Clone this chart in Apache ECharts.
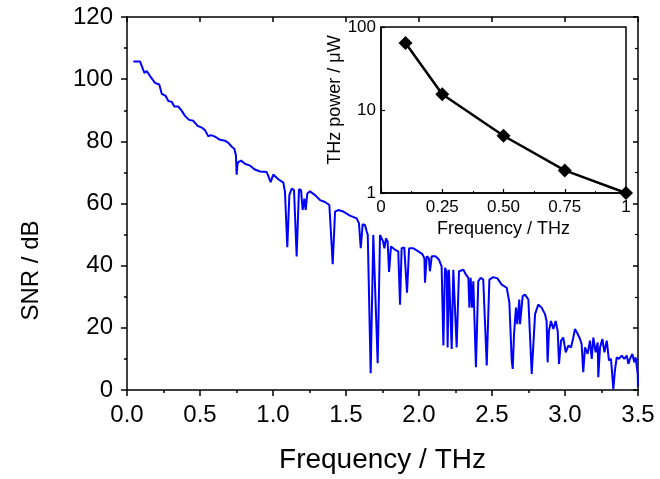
<!DOCTYPE html>
<html>
<head>
<meta charset="utf-8">
<script src="https://cdn.jsdelivr.net/npm/echarts@6/dist/echarts.min.js"></script>
<style>html,body{margin:0;padding:0;background:#fff}#c{width:660px;height:479px}</style>
</head>
<body>
<div id="c"></div>
<script>
// Main spectrum: frequency (THz) and SNR (dB)
const freq = [0.043,0.089,0.119,0.135,0.158,0.192,0.221,0.238,0.265,0.283,0.306,0.324,0.352,0.375,0.397,0.425,0.454,0.484,0.516,0.534,0.557,0.575,0.603,0.637,0.671,0.694,0.721,0.735,0.746,0.751,0.756,0.762,0.781,0.808,0.842,0.872,0.911,0.957,0.968,0.984,1.002,1.036,1.071,1.082,1.098,1.112,1.128,1.144,1.162,1.178,1.192,1.203,1.215,1.224,1.235,1.253,1.288,1.322,1.356,1.386,1.409,1.425,1.447,1.482,1.527,1.573,1.589,1.601,1.614,1.630,1.642,1.649,1.669,1.687,1.699,1.717,1.733,1.744,1.754,1.763,1.774,1.785,1.795,1.808,1.836,1.858,1.870,1.881,1.899,1.918,1.932,1.961,1.995,2.023,2.037,2.041,2.053,2.068,2.075,2.087,2.114,2.137,2.155,2.167,2.178,2.190,2.196,2.205,2.224,2.235,2.247,2.258,2.274,2.304,2.322,2.338,2.345,2.354,2.363,2.372,2.390,2.406,2.423,2.440,2.464,2.482,2.509,2.537,2.566,2.601,2.619,2.635,2.642,2.651,2.664,2.673,2.687,2.692,2.710,2.726,2.749,2.772,2.795,2.817,2.840,2.863,2.874,2.881,2.890,2.904,2.920,2.936,2.950,2.959,2.973,2.988,3.005,3.023,3.041,3.057,3.068,3.087,3.103,3.114,3.125,3.137,3.155,3.171,3.183,3.194,3.210,3.224,3.228,3.240,3.256,3.270,3.286,3.301,3.315,3.331,3.342,3.354,3.370,3.388,3.406,3.423,3.434,3.445,3.461,3.475,3.484,3.498,3.500];
const snr = [105.7,105.7,102.0,102.6,101.0,98.8,98.3,95.3,94.6,93.0,92.7,91.2,91.2,89.8,88.2,86.9,86.6,85.0,84.3,83.6,81.6,82.0,81.5,80.5,80.2,79.5,78.1,77.6,75.5,69.3,72.5,73.3,73.8,72.8,72.2,71.0,70.3,70.1,69.6,66.9,69.3,67.8,66.7,63.7,45.9,62.7,64.8,64.3,43.0,64.6,64.3,57.9,61.6,57.9,63.2,63.9,62.7,61.1,60.5,59.5,40.5,57.4,57.9,57.4,56.1,55.2,53.6,45.6,53.3,53.1,51.0,49.9,5.4,49.9,50.2,8.6,49.9,49.4,47.8,45.6,48.8,47.8,38.0,46.2,45.1,44.6,27.4,45.6,45.9,31.3,45.6,45.6,44.6,43.7,42.4,34.5,43.0,42.4,38.2,43.0,43.0,41.9,39.8,14.3,39.3,38.2,13.7,38.7,13.2,38.7,38.2,13.7,38.2,38.7,37.1,36.1,26.5,36.1,26.5,35.0,7.3,35.0,36.1,35.5,7.9,35.5,36.3,35.9,33.9,32.9,28.1,9.5,6.8,18.0,26.5,21.2,29.1,21.2,30.2,30.7,29.1,5.2,24.4,27.5,26.5,24.4,22.2,8.9,19.0,22.2,19.6,22.2,19.0,8.4,15.9,16.9,12.1,14.3,13.7,16.9,19.6,18.0,16.4,14.8,5.7,13.7,11.6,15.9,10.0,16.9,12.1,15.3,4.1,13.7,16.4,12.1,15.9,9.5,10.0,0.3,6.3,10.5,10.0,11.1,10.0,11.1,8.4,10.0,11.6,8.9,10.5,5.2,1.0];
// Inset: THz power vs frequency
const insetFreq = [0.1, 0.25, 0.5, 0.75, 1.0];
const insetPower = [64, 15.5, 4.9, 1.87, 1.0];
const mainXTicks = ['0.0','0.5','1.0','1.5','2.0','2.5','3.0','3.5'];
const insetXTicks = {0:'0', 0.25:'0.25', 0.5:'0.50', 0.75:'0.75', 1:'1'};

const F = 'Liberation Sans, Arial, sans-serif';
const black = '#000';
const chart = echarts.init(document.getElementById('c'), null, {renderer:'canvas'});

const mainData = freq.map((f,i)=>[f, snr[i]]);
const insetData = insetFreq.map((f,i)=>[f, insetPower[i]]);

chart.setOption({
  backgroundColor:'#fff',
  animation:false,
  grid:[
    {left:127, right:22, top:17, bottom:86, show:false},
    {left:381, right:34, top:27, bottom:286, show:true, borderColor:black, borderWidth:1.5, backgroundColor:'#fff'}
  ],
  xAxis:[
    {gridIndex:0, type:'value', min:0, max:3.5, interval:0.5, position:'bottom',
     name:'Frequency / THz', nameLocation:'middle', nameGap:56,
     nameTextStyle:{fontFamily:F, fontSize:28, color:black},
     axisLine:{show:true, onZero:false, lineStyle:{color:black, width:1.5}},
     axisTick:{show:true, inside:false, length:6, lineStyle:{color:black, width:1.5}},
     minorTick:{show:true, splitNumber:2, length:3, lineStyle:{color:black, width:1.5}},
     splitLine:{show:false},
     axisLabel:{fontFamily:F, fontSize:24, color:black, margin:13, formatter:v=>mainXTicks[Math.round(v/0.5)]}},
    {gridIndex:0, type:'value', min:0, max:3.5, interval:0.5, position:'top',
     axisLine:{show:true, onZero:false, lineStyle:{color:black, width:1.5}},
     axisTick:{show:true, inside:true, length:5, lineStyle:{color:black, width:1.5}},
     minorTick:{show:false}, splitLine:{show:false}, axisLabel:{show:false}},
    {gridIndex:1, type:'value', min:0, max:1, interval:0.25, position:'bottom',
     name:'Frequency / THz', nameLocation:'middle', nameGap:27,
     nameTextStyle:{fontFamily:F, fontSize:18, color:black},
     axisLine:{show:true, onZero:false, lineStyle:{color:black, width:1.5}},
     axisTick:{show:true, inside:true, length:4, lineStyle:{color:black, width:1.2}},
     minorTick:{show:true, splitNumber:2, length:2, lineStyle:{color:black, width:1}},
     splitLine:{show:false},
     axisLabel:{fontFamily:F, fontSize:17, color:black, margin:6, formatter:v=>insetXTicks[v]}}
  ],
  yAxis:[
    {gridIndex:0, type:'value', min:0, max:120, interval:20, position:'left',
     name:'SNR / dB', nameLocation:'middle', nameGap:84,
     nameTextStyle:{fontFamily:F, fontSize:24, color:black, padding:[0,134,0,0]},
     axisLine:{show:true, onZero:false, lineStyle:{color:black, width:1.5}},
     axisTick:{show:true, inside:false, length:6, lineStyle:{color:black, width:1.5}},
     minorTick:{show:true, splitNumber:2, length:3, lineStyle:{color:black, width:1.5}},
     splitLine:{show:false},
     axisLabel:{fontFamily:F, fontSize:24, color:black, margin:14}},
    {gridIndex:0, type:'value', min:0, max:120, interval:20, position:'right',
     axisLine:{show:true, onZero:false, lineStyle:{color:black, width:1.5}},
     axisTick:{show:true, inside:true, length:5, lineStyle:{color:black, width:1.5}},
     minorTick:{show:true, splitNumber:2, length:3, lineStyle:{color:black, width:1.2}},
     splitLine:{show:false}, axisLabel:{show:false}},
    {gridIndex:1, type:'log', logBase:10, min:1, max:100, position:'left',
     name:'THz power / μW', nameLocation:'middle', nameGap:36,
     nameTextStyle:{fontFamily:F, fontSize:18, color:black, padding:[0,0,0,20]},
     axisLine:{show:true, onZero:false, lineStyle:{color:black, width:1.5}},
     axisTick:{show:true, inside:true, length:4, lineStyle:{color:black, width:1.2}},
     minorTick:{show:false},
     splitLine:{show:false},
     axisLabel:{fontFamily:F, fontSize:17, color:black, margin:5}}
  ],
  series:[
    {type:'line', xAxisIndex:0, yAxisIndex:0, data:mainData, showSymbol:false, symbol:'none',
     lineStyle:{color:'#0000ff', width:2}, z:2},
    {type:'line', xAxisIndex:2, yAxisIndex:2, data:insetData, symbol:'diamond', symbolSize:14,
     itemStyle:{color:black}, lineStyle:{color:black, width:2.5}, z:5}
  ]
});
</script>
</body>
</html>
